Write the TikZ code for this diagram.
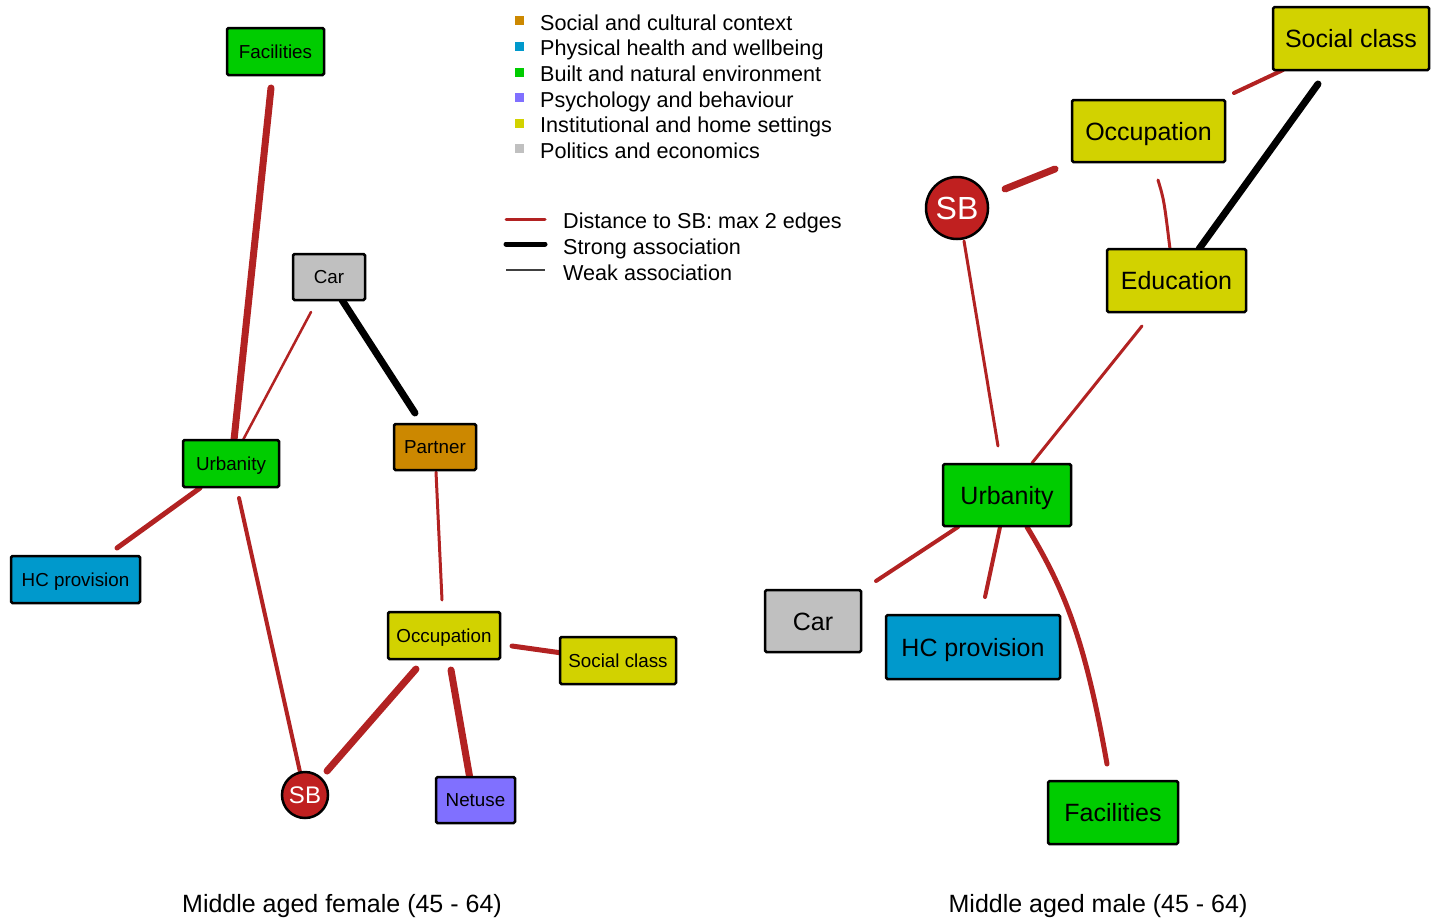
\documentclass[tikz,border=0pt]{standalone}
\usepackage{fontspec}
\setmainfont{Liberation Sans}
\definecolor{cgreen}{RGB}{0,204,0}
\definecolor{cyellow}{RGB}{210,210,0}
\definecolor{cblue}{RGB}{0,153,204}
\definecolor{corange}{RGB}{204,136,0}
\definecolor{cpurple}{RGB}{128,112,255}
\definecolor{cgray}{RGB}{192,192,192}
\definecolor{ered}{RGB}{178,34,34}
\definecolor{sbred}{RGB}{192,32,32}
\tikzset{
  box/.style={draw=black, line width=2.5pt, rounded corners=1.5pt, inner sep=0pt, align=center, text depth=0pt},
  sm/.style={font=\fontsize{18.8}{20}\selectfont, text height=13.5pt},
  bg/.style={font=\fontsize{25}{28}\selectfont, text height=18pt},
  sb/.style={circle, draw=black, line width=2.5pt, fill=sbred, text=white, inner sep=0pt, text depth=0pt},
  redge/.style={draw=ered, line cap=round},
  bedge/.style={draw=black, line cap=round, line width=7pt},
  lg/.style={font=\fontsize{21.6}{24}\selectfont, anchor=west, inner sep=0pt, text height=15.5pt, text depth=0pt},
  lsq/.style={minimum size=9pt, inner sep=0pt},
  captext/.style={font=\fontsize{25}{28}\selectfont, inner sep=0pt, text height=18pt, text depth=0pt},
}
\begin{document}
\begin{tikzpicture}[x=1pt,y=-1pt]
\useasboundingbox (0,0) rectangle (1434,918);
% ---------- left graph edge ends ----------
\coordinate (a1) at (271,88);   \coordinate (a2) at (234,440);
\coordinate (b1) at (311,312);  \coordinate (b2) at (243,440);
\coordinate (c1) at (342,300);  \coordinate (c2) at (415,413);
\coordinate (d1) at (200,488);  \coordinate (d2) at (117,548);
\coordinate (e1) at (239,498);  \coordinate (e2) at (300,772);
\coordinate (f1) at (436,472);  \coordinate (f2) at (442,600);
\coordinate (g1) at (416,669);  \coordinate (g2) at (327,771);
\coordinate (h1) at (451,670);  \coordinate (h2) at (470,779);
\coordinate (i1) at (512,646);  \coordinate (i2) at (562,653);
% edges
\draw[redge, line width=7pt] (a1) -- (a2);
\draw[redge, line width=2.5pt] (b1) -- (b2);
\draw[bedge] (c1) -- (c2);
\draw[redge, line width=5pt] (d1) -- (d2);
\draw[redge, line width=4pt] (e1) -- (e2);
\draw[redge, line width=3pt] (f1) -- (f2);
\draw[redge, line width=7pt] (g1) -- (g2);
\draw[redge, line width=7pt] (h1) -- (h2);
\draw[redge, line width=5pt] (i1) -- (i2);
% nodes
\node[box, sm, fill=cgreen, minimum width=97pt, minimum height=47pt] (LFac) at (275.5,51.5) {Facilities};
\node[box, sm, fill=cgray, minimum width=72pt, minimum height=46pt] (LCar) at (329,277) {Car};
\node[box, sm, fill=corange, minimum width=82pt, minimum height=46pt] (LPar) at (435,447) {Partner};
\node[box, sm, fill=cgreen, minimum width=96pt, minimum height=47pt] (LUrb) at (231,463.5) {Urbanity};
\node[box, sm, fill=cblue, minimum width=129pt, minimum height=47pt] (LHC) at (75.5,579.5) {HC provision};
\node[box, sm, fill=cyellow, minimum width=112pt, minimum height=47pt] (LOcc) at (444,635.5) {Occupation};
\node[box, sm, fill=cyellow, minimum width=116pt, minimum height=47pt] (LSoc) at (618,660.5) {Social class};
\node[box, sm, fill=cpurple, minimum width=79pt, minimum height=46pt] (LNet) at (475.5,800) {Netuse};
\node[sb, minimum size=46pt, font=\fontsize{24}{26}\selectfont, text height=17.3pt] (LSB) at (305,795) {SB};
% ---------- right graph edge ends ----------
\coordinate (p1) at (1005,189);  \coordinate (p2) at (1055,169);
\coordinate (q1) at (1234,93);   \coordinate (q2) at (1283,70);
\coordinate (r1) at (1318,84);   \coordinate (r2) at (1199,249);
\coordinate (s1) at (1158,180);  \coordinate (s2) at (1170,249);
\coordinate (t1) at (964,241);   \coordinate (t2) at (998,446);
\coordinate (u1) at (1142,326);  \coordinate (u2) at (1032,463);
\coordinate (v1) at (958,527);   \coordinate (v2) at (876,581);
\coordinate (w1) at (1000,527);  \coordinate (w2) at (985,597);
\coordinate (z1) at (1027,527);  \coordinate (z2) at (1107,764);
\draw[redge, line width=7pt] (p1) -- (p2);
\draw[redge, line width=4pt] (q1) -- (q2);
\draw[bedge] (r1) -- (r2);
\draw[redge, line width=3pt] (s1) .. controls (1164,200) .. (s2);
\draw[redge, line width=3pt] (t1) -- (t2);
\draw[redge, line width=3pt] (u1) -- (u2);
\draw[redge, line width=4pt] (v1) -- (v2);
\draw[redge, line width=4pt] (w1) -- (w2);
\draw[redge, line width=5pt] (z1) .. controls (1065,590) and (1085,640) .. (z2);
\node[box, bg, fill=cyellow, minimum width=156pt, minimum height=63pt] (RSoc) at (1351,38.5) {Social class};
\node[box, bg, fill=cyellow, minimum width=153pt, minimum height=62pt] (ROcc) at (1148.5,131) {Occupation};
\node[box, bg, fill=cyellow, minimum width=139pt, minimum height=63pt] (REdu) at (1176.5,280.5) {Education};
\node[box, bg, fill=cgreen, minimum width=128pt, minimum height=62pt] (RUrb) at (1007,495) {Urbanity};
\node[box, bg, fill=cgray, minimum width=96pt, minimum height=62pt] (RCar) at (813,621) {Car};
\node[box, bg, fill=cblue, minimum width=174pt, minimum height=64pt] (RHC) at (973,647) {HC provision};
\node[box, bg, fill=cgreen, minimum width=130pt, minimum height=63pt] (RFac) at (1113,812.5) {Facilities};
\node[sb, minimum size=62pt, font=\fontsize{32}{34}\selectfont, text height=23pt] (RSB) at (957,208) {SB};
% ---------- legend ----------
\node[lsq, fill=corange] (k1) at (519,20) {};
\node[lsq, fill=cblue] (k2) at (519,46) {};
\node[lsq, fill=cgreen] (k3) at (519,72) {};
\node[lsq, fill=cpurple] (k4) at (519,97) {};
\node[lsq, fill=cyellow] (k5) at (519,123) {};
\node[lsq, fill=cgray] (k6) at (519,148) {};
\node[lg] (t1l) at (540,22.5) {Social and cultural context};
\node[lg] (t2l) at (540,48) {Physical health and wellbeing};
\node[lg] (t3l) at (540,74) {Built and natural environment};
\node[lg] (t4l) at (540,99.5) {Psychology and behaviour};
\node[lg] (t5l) at (540,125) {Institutional and home settings};
\node[lg] (t6l) at (540,151) {Politics and economics};
\coordinate (m1a) at (506,219); \coordinate (m1b) at (545,219);
\coordinate (m2a) at (506,244); \coordinate (m2b) at (545,244);
\coordinate (m3a) at (506,270); \coordinate (m3b) at (545,270);
\draw[redge, line width=3pt] (m1a) -- (m1b);
\draw[draw=black, line width=5pt, line cap=round] (m2a) -- (m2b);
\draw[draw=black!75, line width=1.5pt] (m3a) -- (m3b);
\node[lg] (t7l) at (563,221) {Distance to SB: max 2 edges};
\node[lg] (t8l) at (563,247) {Strong association};
\node[lg] (t9l) at (563,273) {Weak association};
% ---------- captions ----------
\node[captext] (capL) at (342,903) {Middle aged female (45 - 64)};
\node[captext] (capR) at (1098,903) {Middle aged male (45 - 64)};
\end{tikzpicture}
\end{document}
